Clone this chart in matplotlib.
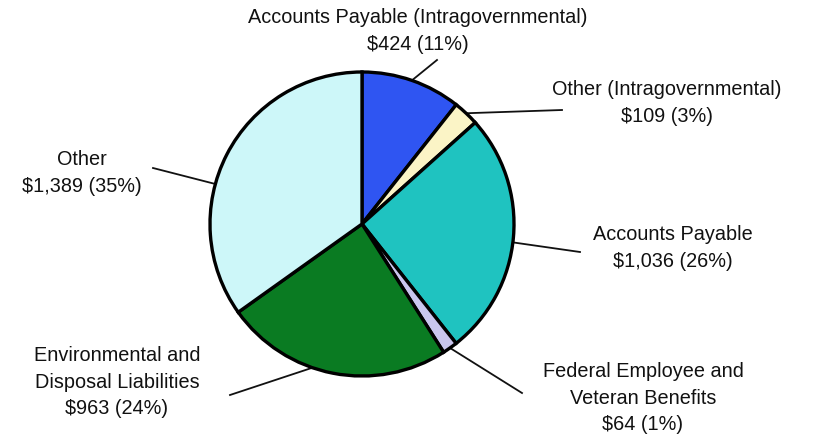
import numpy as np
import matplotlib
matplotlib.use("Agg")
import matplotlib.pyplot as plt

# Liabilities by category, $ millions (clockwise from 12 o'clock)
categories = [
    "Accounts Payable (Intragovernmental)",
    "Other (Intragovernmental)",
    "Accounts Payable",
    "Federal Employee and\nVeteran Benefits",
    "Environmental and\nDisposal Liabilities",
    "Other",
]
amounts = [424, 109, 1036, 64, 963, 1389]
value_labels = ["$424 (11%)", "$109 (3%)", "$1,036 (26%)", "$64 (1%)", "$963 (24%)", "$1,389 (35%)"]
colors = ["#2f55f2", "#fbf4c6", "#1fc3c0", "#c9c6ee", "#0a7b22", "#cdf7f9"]

plt.rcParams["font.family"] = ["Liberation Sans", "DejaVu Sans"]

W, H = 814, 442
fig = plt.figure(figsize=(W / 100, H / 100), dpi=100)
ax = fig.add_axes([0, 0, 1, 1])
ax.set_aspect("equal")
ax.axis("off")

cx, cy, r = 362, 224, 152
# y axis runs downward, so counterclock=True turns clockwise on screen
wedges, _ = ax.pie(amounts, colors=colors, startangle=-90, counterclock=True,
                   center=(cx, cy), radius=r,
                   wedgeprops=dict(edgecolor="black", linewidth=2.4))
ax.set_xlim(0, W)
ax.set_ylim(H, 0)

# label block centres and leader-line ends
text_pos = [(418, 31), (667, 103), (673, 248), (643, 398), (117, 382), (82, 173)]
line_end = [(437, 60), (562, 110), (580, 252), (522, 393), (230, 395), (153, 168)]
angle_shift = [0, 0, 2, 0, 8, -12]

for w, cat, val, tp, le, sh in zip(wedges, categories, value_labels, text_pos, line_end, angle_shift):
    mid = np.deg2rad((w.theta1 + w.theta2) / 2 + sh)
    x0 = cx + r * np.cos(mid)
    y0 = cy + r * np.sin(mid)
    ax.plot([x0, le[0]], [y0, le[1]], color="#111111", linewidth=1.3, zorder=0.5)
    ax.text(tp[0], tp[1], cat + "\n" + val, ha="center", va="center",
            fontsize=14.3, color="#111111", linespacing=1.5)

fig.savefig("out.png", dpi=100)
